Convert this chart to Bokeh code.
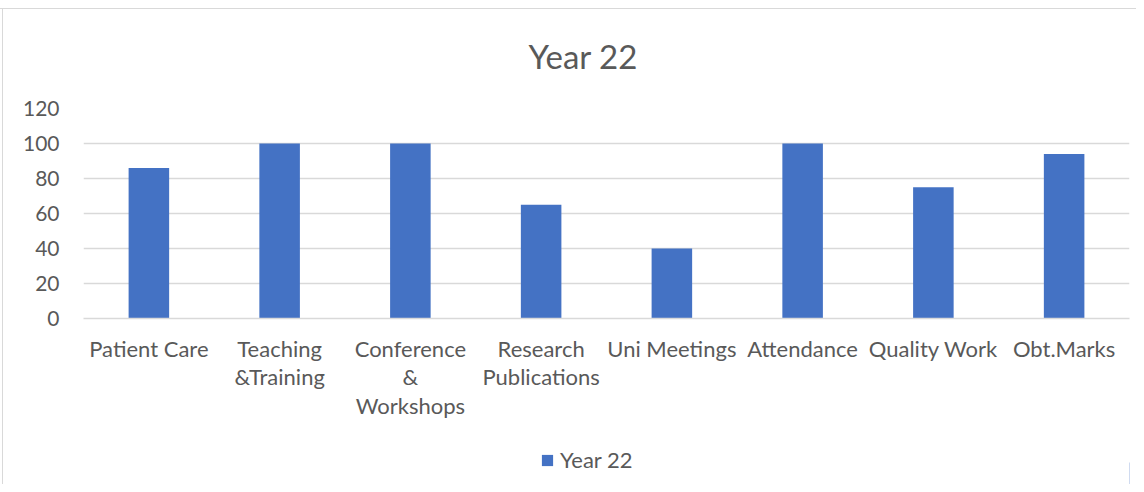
from bokeh.plotting import figure
from bokeh.layouts import column
from bokeh.models import ColumnDataSource, FactorRange, Legend, LegendItem, FixedTicker
from bokeh.embed import file_html
from bokeh.resources import INLINE

categories = ["Patient Care", "Teaching\n&Training", "Conference\n&\nWorkshops",
              "Research\nPublications", "Uni Meetings", "Attendance", "Quality Work", "Obt.Marks"]
values = [86, 100, 100, 65, 40, 100, 75, 94]
series_name = "Year 22"
y_ticks = [0, 20, 40, 60, 80, 100, 120]

TEXT = "#595959"
GRID = "#D9D9D9"
BAR = "#4472C4"
FONT = "Lato"

src = ColumnDataSource(dict(cat=categories, val=values))

p = figure(width=1136, height=440, x_range=FactorRange(*categories),
           y_range=(0, 120), output_backend="svg", toolbar_location=None,
           min_border_left=83, min_border_right=7, min_border_top=108, min_border_bottom=122)
p.x_range.range_padding = 0
p.x_range.factor_padding = 0

r = p.vbar(x="cat", top="val", width=0.31, source=src, fill_color=BAR, line_color=None)

p.outline_line_color = None
p.background_fill_color = None
p.border_fill_color = None

p.xgrid.grid_line_color = None
p.ygrid.grid_line_color = GRID
p.ygrid.grid_line_width = 1.5
p.ygrid.ticker = FixedTicker(ticks=y_ticks)

p.yaxis.ticker = FixedTicker(ticks=y_ticks)
p.yaxis.axis_line_color = None
p.yaxis.major_tick_line_color = None
p.yaxis.minor_tick_line_color = None
p.yaxis.major_tick_out = 0
p.yaxis.major_label_standoff = 24
p.yaxis.major_label_text_font = FONT
p.yaxis.major_label_text_font_size = "21px"
p.yaxis.major_label_text_color = TEXT

p.xaxis.axis_line_color = GRID
p.xaxis.axis_line_width = 1.5
p.xaxis.major_tick_line_color = None
p.xaxis.major_tick_out = 0
p.xaxis.major_label_standoff = 16
p.xaxis.major_label_text_font = FONT
p.xaxis.major_label_text_font_size = "22px"
p.xaxis.major_label_text_color = TEXT
p.xaxis.major_label_text_line_height = 1.06

p.title.text = series_name
p.title.align = "left"
p.title.offset = 445
p.title.standoff = 66
p.title.text_font = FONT
p.title.text_font_size = "33px"
p.title.text_font_style = "normal"
p.title.text_color = TEXT

# legend strip below the chart
p2 = figure(width=1136, height=44, x_range=(0, 1), y_range=(0, 1), output_backend="svg",
            toolbar_location=None, x_axis_type=None, y_axis_type=None,
            min_border_left=83, min_border_right=7, min_border_top=0, min_border_bottom=0)
p2.grid.visible = False
p2.outline_line_color = None
p2.background_fill_color = None
p2.border_fill_color = None
r2 = p2.vbar(x=[5], top=[0.5], width=0.31, fill_color=BAR, line_color=None)

legend = Legend(items=[LegendItem(label=series_name, renderers=[r2])], location=(457, 11),
                label_text_font=FONT, label_text_font_size="22px", label_text_color=TEXT,
                glyph_width=14, glyph_height=14, padding=0, margin=0, spacing=0,
                label_standoff=6, border_line_color=None, background_fill_alpha=0)
p2.add_layout(legend)

layout = column(p, p2, spacing=0)
layout.styles = {"background": "linear-gradient(#D9D9D9,#D9D9D9) 0px 8px / 100% 1px no-repeat, "
                               "linear-gradient(#D9D9D9,#D9D9D9) 2px 8px / 1px 100% no-repeat, white"}

open("out.html", "w").write(file_html(layout, INLINE))
